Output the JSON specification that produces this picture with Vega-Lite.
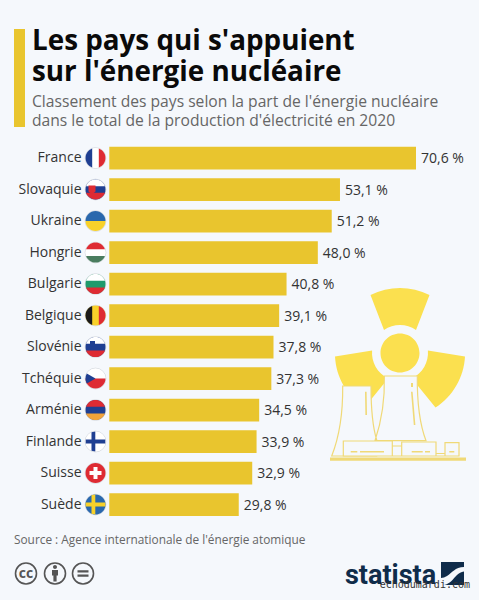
{
"$schema": "https://vega.github.io/schema/vega-lite/v6.json",
"width": 479, "height": 600,
"autosize": {"type": "none"},
"padding": 0,
"background": "#f5f8fc",
"view": {"stroke": null},
"title": {
  "text": ["Les pays qui s'appuient", "sur l'énergie nucléaire"],
  "subtitle": ["Classement des pays selon la part de l'énergie nucléaire", "dans le total de la production d'électricité en 2020"],
  "anchor": "start", "frame": "group", "dx": 32, "dy": 133,
  "font": "Open Sans", "fontSize": 27.8, "fontWeight": 700, "lineHeight": 31, "color": "#0a0a0a",
  "subtitleFont": "Open Sans", "subtitleFontSize": 15.65, "subtitleLineHeight": 19, "subtitleColor": "#666666", "subtitlePadding": 9
},
"datasets": {
  "pays": [
    {"pays": "France", "part": 70.6, "etiquette": "70,6 %"},
    {"pays": "Slovaquie", "part": 53.1, "etiquette": "53,1 %"},
    {"pays": "Ukraine", "part": 51.2, "etiquette": "51,2 %"},
    {"pays": "Hongrie", "part": 48.0, "etiquette": "48,0 %"},
    {"pays": "Bulgarie", "part": 40.8, "etiquette": "40,8 %"},
    {"pays": "Belgique", "part": 39.1, "etiquette": "39,1 %"},
    {"pays": "Slovénie", "part": 37.8, "etiquette": "37,8 %"},
    {"pays": "Tchéquie", "part": 37.3, "etiquette": "37,3 %"},
    {"pays": "Arménie", "part": 34.5, "etiquette": "34,5 %"},
    {"pays": "Finlande", "part": 33.9, "etiquette": "33,9 %"},
    {"pays": "Suisse", "part": 32.9, "etiquette": "32,9 %"},
    {"pays": "Suède", "part": 29.8, "etiquette": "29,8 %"}
  ],
  "drapeaux": [
    {"pays": "France", "piece": "plein", "couleur": "blanc"},
    {"pays": "France", "piece": "gauche", "couleur": "bleu"},
    {"pays": "France", "piece": "droite", "couleur": "rouge"},
    {"pays": "Slovaquie", "piece": "plein", "couleur": "bleu"},
    {"pays": "Slovaquie", "piece": "haut", "couleur": "blanc"},
    {"pays": "Slovaquie", "piece": "bas", "couleur": "rouge"},
    {"pays": "Slovaquie", "piece": "ecusson", "couleur": "rouge"},
    {"pays": "Ukraine", "piece": "moitie_haut", "couleur": "bleu_clair"},
    {"pays": "Ukraine", "piece": "moitie_bas", "couleur": "jaune"},
    {"pays": "Hongrie", "piece": "plein", "couleur": "blanc"},
    {"pays": "Hongrie", "piece": "haut", "couleur": "rouge"},
    {"pays": "Hongrie", "piece": "bas", "couleur": "vert"},
    {"pays": "Bulgarie", "piece": "plein", "couleur": "vert_clair"},
    {"pays": "Bulgarie", "piece": "haut", "couleur": "blanc"},
    {"pays": "Bulgarie", "piece": "bas", "couleur": "rouge"},
    {"pays": "Belgique", "piece": "plein", "couleur": "jaune"},
    {"pays": "Belgique", "piece": "gauche", "couleur": "noir"},
    {"pays": "Belgique", "piece": "droite", "couleur": "rouge"},
    {"pays": "Slovénie", "piece": "plein", "couleur": "bleu"},
    {"pays": "Slovénie", "piece": "haut", "couleur": "blanc"},
    {"pays": "Slovénie", "piece": "bas", "couleur": "rouge"},
    {"pays": "Slovénie", "piece": "ecusson_si", "couleur": "bleu"},
    {"pays": "Tchéquie", "piece": "moitie_haut", "couleur": "blanc"},
    {"pays": "Tchéquie", "piece": "moitie_bas", "couleur": "rouge"},
    {"pays": "Tchéquie", "piece": "triangle", "couleur": "bleu"},
    {"pays": "Arménie", "piece": "plein", "couleur": "bleu"},
    {"pays": "Arménie", "piece": "haut", "couleur": "rouge"},
    {"pays": "Arménie", "piece": "bas", "couleur": "orange"},
    {"pays": "Finlande", "piece": "plein", "couleur": "blanc"},
    {"pays": "Finlande", "piece": "croix_nord", "couleur": "bleu"},
    {"pays": "Suisse", "piece": "plein", "couleur": "rouge"},
    {"pays": "Suisse", "piece": "croix_suisse", "couleur": "blanc"},
    {"pays": "Suède", "piece": "plein", "couleur": "bleu_clair"},
    {"pays": "Suède", "piece": "croix_nord", "couleur": "jaune"}
  ]
},
"layer": [
  {
    "data": {"values": [{}]},
    "mark": {"type": "rect", "x": 14, "x2": 25, "y": 29, "y2": 127, "color": "#e9c52e"}
  },
  {
    "data": {"values": [{}]},
    "mark": {"type": "point", "x": 400, "y": 353, "size": 4, "opacity": 1, "filled": true, "fill": "#fbe04f", "strokeWidth": 0,
      "shape": "M-29.5,-58A65,65 0 0 1 29.5,-58L16,-23A28,28 0 0 0 -16,-23ZM65,3.5A65,65 0 0 1 35.5,54.6L11.9,25.4A28,28 0 0 0 27.9,-2.4ZM-35.5,54.6A65,65 0 0 1 -65,3.5L-27.9,-2.4A28,28 0 0 0 -11.9,25.4ZM-19.5,0A19.5,19.5 0 1 1 19.5,0A19.5,19.5 0 1 1 -19.5,0Z"}
  },
  {
    "data": {"values": [{}]},
    "mark": {"type": "point", "x": 330, "y": 370, "size": 4, "opacity": 1, "filled": true, "fill": "#f5f8fc", "stroke": "#f0d977", "strokeWidth": 1.2,
      "shape": "M12.7,16L41,16C41,40 43,58 46.7,70L46.7,86L1.7,86C8,70 13,45 12.7,16ZM54.3,6L87.3,6C87,35 90,55 96,70.7L45,70.7C52,50 55,30 54.3,6Z"}
  },
  {
    "data": {"values": [{}]},
    "mark": {"type": "point", "x": 330, "y": 370, "size": 4, "opacity": 1, "filled": true, "fill": "#f5f8fc", "stroke": "#f0d977", "strokeWidth": 1.2,
      "shape": "M13.3,71L62.3,71L62.3,86L13.3,86ZM62.3,76L71.7,76L71.7,86L62.3,86ZM71.7,72L106,72L106,86L71.7,86ZM106,83.5L115,83.5L115,86L106,86ZM115,72.7L129,72.7L129,86L115,86Z"}
  },
  {
    "data": {"values": [{}]},
    "mark": {"type": "point", "x": 330, "y": 370, "size": 4, "opacity": 1, "filled": true, "fill": "#f0d977", "strokeWidth": 0,
      "shape": "M0,87.5L136,87.5L136,90.7L0,90.7ZM35,21.7L36.6,21.7L37,45L35.4,45ZM81,13L83,13L83,17L81,17ZM81,21.7L82.6,21.7L85.4,55L83.8,55ZM20.7,81L27.3,81L27.3,82.5L20.7,82.5ZM30,81L54,81L54,82.5L30,82.5ZM81.7,81L92.7,81L92.7,82.5L81.7,82.5ZM95,81L100,81L100,82.5L95,82.5ZM119.3,81L124.3,81L124.3,82.5L119.3,82.5Z"}
  },
  {
    "layer": [
      {
        "data": {"name": "pays"},
        "mark": {"type": "bar", "color": "#e9c52e"},
        "encoding": {
          "x": {"field": "part", "type": "quantitative", "axis": null,
                "scale": {"domain": [0, 70.6], "range": [109.3, 416], "nice": false, "zero": false}},
          "y": {"field": "pays", "type": "nominal", "sort": null,
                "scale": {"range": [146.7, 515.9], "paddingInner": 0.28, "paddingOuter": 0},
                "axis": {"title": null, "domain": false, "ticks": false, "grid": false, "offset": -109,
                         "labelFont": "Open Sans", "labelFontSize": 14, "labelColor": "#333333", "labelPadding": 28}}
        }
      },
      {
        "data": {"name": "pays"},
        "mark": {"type": "text", "align": "left", "dx": 5, "dy": 1, "font": "Open Sans", "fontSize": 14, "color": "#333333"},
        "encoding": {
          "x": {"field": "part", "type": "quantitative"},
          "y": {"field": "pays", "type": "nominal", "sort": null},
          "text": {"field": "etiquette"}
        }
      },
      {
        "data": {"name": "pays"},
        "mark": {"type": "point", "shape": "circle", "filled": false, "opacity": 1, "stroke": "#d9dde2", "strokeWidth": 1, "size": 430, "xOffset": -13.8},
        "encoding": {
          "x": {"datum": 0, "type": "quantitative"},
          "y": {"field": "pays", "type": "nominal", "sort": null}
        }
      },
      {
        "data": {"name": "drapeaux"},
        "mark": {"type": "point", "filled": true, "opacity": 1, "strokeWidth": 0, "size": 400, "xOffset": -13.8},
        "encoding": {
          "x": {"datum": 0, "type": "quantitative"},
          "y": {"field": "pays", "type": "nominal", "sort": null},
          "shape": {"field": "piece", "type": "nominal", "legend": null,
            "scale": {
              "domain": ["plein", "gauche", "droite", "haut", "bas", "moitie_haut", "moitie_bas", "triangle", "croix_nord", "croix_suisse", "ecusson", "ecusson_si"],
              "range": [
                "M-1,0A1,1 0 1 1 1,0A1,1 0 1 1 -1,0Z",
                "M-0.333,-0.943A1,1 0 0 0 -0.333,0.943Z",
                "M0.333,0.943A1,1 0 0 0 0.333,-0.943Z",
                "M-0.943,-0.333A1,1 0 0 1 0.943,-0.333Z",
                "M0.943,0.333A1,1 0 0 1 -0.943,0.333Z",
                "M-1,0A1,1 0 0 1 1,0Z",
                "M1,0A1,1 0 0 1 -1,0Z",
                "M-0.87,-0.5L0,0L-0.87,0.5A1,1 0 0 1 -0.87,-0.5Z",
                "M-0.4,-0.92L-0.02,-1L-0.02,-0.2L0.98,-0.2L0.98,0.2L-0.02,0.2L-0.02,1L-0.4,0.92L-0.4,0.2L-0.98,0.2L-0.98,-0.2L-0.4,-0.2Z",
                "M-0.2,-0.6L0.2,-0.6L0.2,-0.2L0.6,-0.2L0.6,0.2L0.2,0.2L0.2,0.6L-0.2,0.6L-0.2,0.2L-0.6,0.2L-0.6,-0.2L-0.2,-0.2Z",
                "M-0.7,-0.4L0,-0.4L0,0.2Q-0.35,0.6 -0.7,0.2Z",
                "M-0.55,-0.6L-0.05,-0.6L-0.05,-0.15Q-0.3,0.1 -0.55,-0.15Z"
              ]
            }},
          "color": {"field": "couleur", "type": "nominal", "legend": null,
            "scale": {
              "domain": ["blanc", "bleu", "bleu_clair", "rouge", "vert", "vert_clair", "jaune", "noir", "orange"],
              "range": ["#ffffff", "#1f3f92", "#2a68ad", "#de2b33", "#4a7d5f", "#1f9a6c", "#f8d12a", "#1a1a1a", "#f2a33a"]
            }}
        }
      }
    ]
  },
  {
    "data": {"values": [{}]},
    "mark": {"type": "text", "x": 14, "y": 544, "align": "left", "baseline": "alphabetic", "font": "Open Sans", "fontSize": 11.85, "color": "#666666",
             "text": "Source : Agence internationale de l'énergie atomique"}
  },
  {
    "data": {"values": [{}]},
    "mark": {"type": "point", "x": 55, "y": 573.5, "size": 4, "opacity": 1, "filled": false, "stroke": "#555555", "strokeWidth": 1.6,
      "shape": "M-39.5,0A10.5,10.5 0 1 1 -18.5,0A10.5,10.5 0 1 1 -39.5,0ZM-10.5,0A10.5,10.5 0 1 1 10.5,0A10.5,10.5 0 1 1 -10.5,0ZM17.5,0A10.5,10.5 0 1 1 38.5,0A10.5,10.5 0 1 1 17.5,0Z"}
  },
  {
    "data": {"values": [{}]},
    "mark": {"type": "point", "x": 55, "y": 573.5, "size": 4, "opacity": 1, "filled": true, "fill": "#555555", "strokeWidth": 0,
      "shape": "M-2,-6.5A2,2 0 1 1 2,-6.5A2,2 0 1 1 -2,-6.5ZM-3,-3.5L3,-3.5L3,2L1.6,2L1.6,8L-1.6,8L-1.6,2L-3,2ZM22.5,-3.2L33.5,-3.2L33.5,-0.9L22.5,-0.9ZM22.5,0.9L33.5,0.9L33.5,3.2L22.5,3.2Z"}
  },
  {
    "data": {"values": [{}]},
    "mark": {"type": "text", "x": 26, "y": 578, "align": "center", "baseline": "alphabetic", "font": "Open Sans", "fontSize": 14, "fontWeight": 700, "color": "#555555", "text": "cc"}
  },
  {
    "data": {"values": [{}]},
    "mark": {"type": "text", "x": 345, "y": 584, "align": "left", "baseline": "alphabetic", "font": "Roboto", "fontSize": 27, "fontWeight": 700, "color": "#0f2c4a", "text": "statista"}
  },
  {
    "data": {"values": [{}]},
    "mark": {"type": "point", "x": 441, "y": 562, "size": 4, "opacity": 1, "filled": true, "fill": "#0f2c4a", "strokeWidth": 0,
      "shape": "M0,0L23,0L23,5C14,5 11,11 6,14C4,15 2,16 0,16ZM23,9.5L23,23L3,23C9,22 12,17 16,13C18,11 20,10 23,9.5Z"}
  },
  {
    "data": {"values": [{}]},
    "mark": {"type": "text", "x": 470, "y": 588, "align": "right", "baseline": "alphabetic", "font": "DejaVu Sans Mono", "fontSize": 10, "color": "#333333", "text": "echodumardi.com"}
  }
]
}
